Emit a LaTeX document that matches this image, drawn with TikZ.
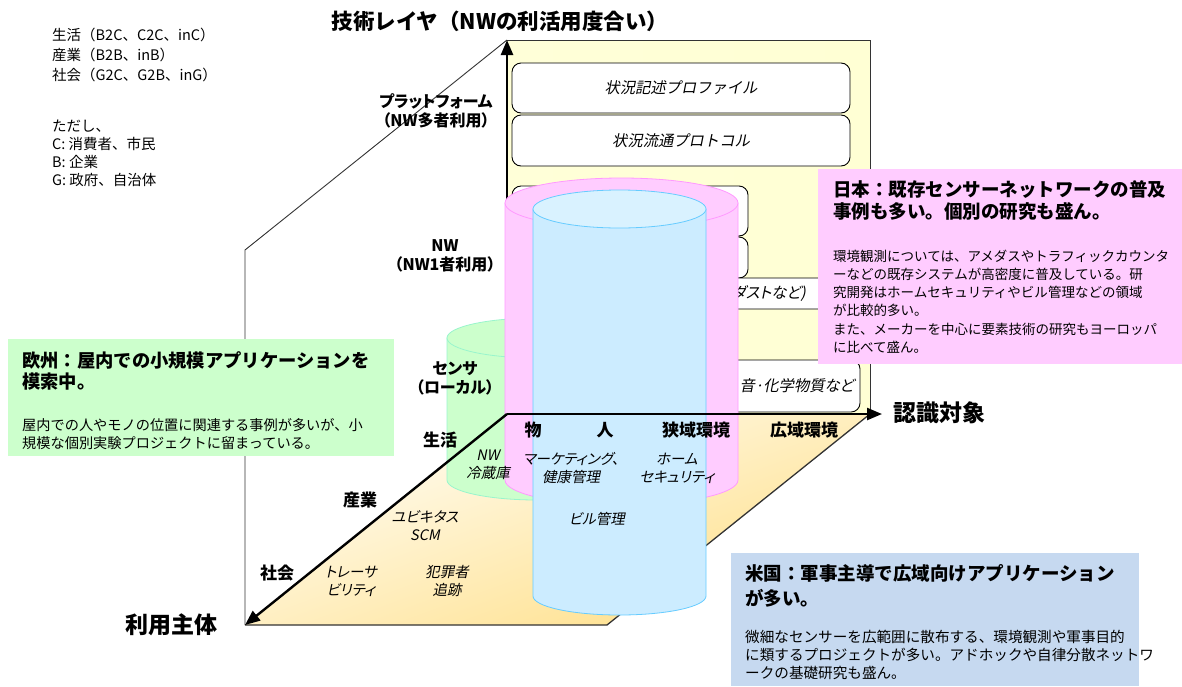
\documentclass[tikz,border=0pt]{standalone}
\usepackage{fontspec}
\setmainfont{Noto Sans CJK JP}
\newfontfamily\pj{Noto Sans CJK JP}[RawFeature=+palt]
\newfontfamily\pjit{Noto Sans CJK JP}[RawFeature=+palt,FakeSlant=0.2]
\newfontfamily\jit{Noto Sans CJK JP}[FakeSlant=0.2]
\usetikzlibrary{arrows.meta}
\newcommand\fsz[2]{\fontsize{#1}{#2}\selectfont}
\definecolor{wallL}{HTML}{FFFFD8}
\definecolor{wallM}{HTML}{FFFFF4}
\definecolor{wallR}{HTML}{FFFFD4}
\definecolor{floorA}{HTML}{FFFEF8}
\definecolor{floorB}{HTML}{FFDF88}
\definecolor{cylG}{HTML}{CCFFCC}
\definecolor{cylGd}{HTML}{99F5CC}
\definecolor{cylP}{HTML}{FFCCFF}
\definecolor{cylPd}{HTML}{FF99FF}
\definecolor{cylB}{HTML}{CCECFF}
\definecolor{cylBt}{HTML}{D9F2FF}
\definecolor{cylBd}{HTML}{66CCFF}
\definecolor{jpBox}{HTML}{FFCCFF}
\definecolor{euBox}{HTML}{CCFFCC}
\definecolor{usBox}{HTML}{C6D9F0}
\begin{document}
\begin{tikzpicture}[x=1pt,y=-1pt,
  axis/.style={line width=2.4pt,-{Triangle[length=15pt,width=12pt]}},
  rim/.style={line width=0.9pt,draw=black!80},
  wallbox/.style={draw=black,line width=0.9pt,fill=white,rounded corners=9pt,inner sep=0pt},
  boxtxt/.style={font=\jit\fsz{15.3}{18}},
  axlbl/.style={font=\pj\bfseries\fsz{16}{19},align=center,inner sep=0pt},
  tick/.style={font=\bfseries\fsz{17}{20},inner sep=0pt},
  flr/.style={font=\pjit\fsz{14.5}{18},align=center,inner sep=0pt},
  big/.style={font=\bfseries\fsz{23}{26},inner sep=0pt},
  infottl/.style={font=\bfseries\fsz{18.5}{22},align=left,anchor=north west,inner sep=0pt},
  infobody/.style={font=\fsz{13.5}{18.2},align=left,anchor=north west,inner sep=0pt},
  legend/.style={font=\fsz{14.5}{20.3},align=left,anchor=north west,inner sep=0pt},
  cylGs/.style={fill=cylG,draw=cylGd,line width=0.8pt},
  cylPs/.style={fill=cylP,draw=cylPd,line width=0.8pt},
  cylBs/.style={fill=cylB,draw=cylBd,line width=0.8pt},
]
\useasboundingbox (0,0) rectangle (1182,686);
\fill[white] (0,0) rectangle (1182,686);

% legend
\node[legend] (leg1) at (52,27.5) {生活（B2C、C2C、inC）\\産業（B2B、inB）\\社会（G2C、G2B、inG）};
\node[legend,font=\fsz{14.5}{18.1}] (leg2) at (52,119.7) {ただし、\\C: 消費者、市民\\B: 企業\\G: 政府、自治体};

% back wall
\shade[left color=wallL,middle color=wallM,right color=wallR] (507,40) rectangle (870,414);
\draw[rim] (507,40) -- (870,40) -- (870,414);
\node[wallbox,boxtxt,minimum width=338pt,minimum height=50pt] (wb1) at (681,88) {状況記述プロファイル};
\node[wallbox,boxtxt,minimum width=338pt,minimum height=51pt] (wb2) at (681,140.5) {状況流通プロトコル};
\node[wallbox,minimum width=236pt,minimum height=50pt] (wb3) at (630,211) {};
\node[wallbox,minimum width=236pt,minimum height=41pt] (wb4) at (630,257.5) {};
\node[wallbox,minimum width=348pt,minimum height=31pt] (wb5) at (686,293.5) {};
\node[boxtxt,font=\pjit\fsz{15.3}{18},anchor=east,inner sep=0pt] (wt5) at (806,293.5) {ダストなど)};
\node[wallbox,minimum width=348pt,minimum height=52pt] (wb6) at (686,386) {};
\node[boxtxt,font=\pjit\fsz{15.3}{18},anchor=east,inner sep=0pt] (wt6) at (854,386) {音·化学物質など};

% floor
\shade[top color=floorA,bottom color=floorB,shading angle=20] (507,414) -- (870,414) -- (607,625) -- (245,625) -- cycle;
\draw[rim,line width=1.3pt] (245,625) -- (607,625) -- (870,414);
\draw[rim] (245,625) -- (245,250) -- (507,40);

% vertical axis
\coordinate (O) at (507,414);
\coordinate (Vt) at (507,40);
\coordinate (Ht) at (882,414);
\coordinate (Dt) at (245,625);
\draw[axis] (O) -- (Vt);

% cylinders
\draw[cylGs] (447,338) -- (447,480) arc[start angle=180,end angle=0,x radius=90,y radius=20] -- (627,338) -- cycle;
\draw[cylGs] (537,338) ellipse[x radius=90,y radius=20];
\draw[cylPs] (505,203) -- (505,480) arc[start angle=180,end angle=0,x radius=116.5,y radius=25] -- (738,203) -- cycle;
\draw[cylPs] (621.5,203) ellipse[x radius=116.5,y radius=25];
\draw[cylBs] (533,209) -- (533,596) arc[start angle=180,end angle=0,x radius=86.5,y radius=19] -- (706,209) -- cycle;
\draw[cylBs,fill=cylBt] (619.5,209) ellipse[x radius=86.5,y radius=19];

% axes
\draw[axis] (O) -- (Ht);
\draw[axis] (O) -- (Dt);

% axis titles
\node[big,font=\bfseries\fsz{21.5}{26}] (tTitle) at (500,21) {技術レイヤ（NWの利活用度合い）};
\node[big] (tRecog) at (939,413) {認識対象};
\node[big] (tUser) at (171,625) {利用主体};

% vertical labels
\node[axlbl] (lPlat) at (436,110.5) {プラットフォーム\\（NW多者利用）};
\node[axlbl] (lNW) at (445,255.5) {NW\\（NW1者利用）};
\node[axlbl] (lSen) at (455,378) {センサ\\（ローカル）};

% ticks
\node[tick] (kSei) at (440,440) {生活};
\node[tick] (kSan) at (360,500) {産業};
\node[tick] (kSha) at (277,573) {社会};
\node[tick] (kMono) at (533,430) {物};
\node[tick] (kHito) at (605,430) {人};
\node[tick] (kKyo) at (696,430) {狭域環境};
\node[tick] (kKou) at (804,430) {広域環境};

% floor labels
\node[flr] (fNW) at (488,465) {NW\\冷蔵庫};
\node[flr] (fMk) at (571,468) {マーケティング、\\健康管理};
\node[flr] (fHm) at (677,468) {ホーム\\セキュリティ};
\node[flr] (fBl) at (597,519) {ビル管理};
\node[flr] (fUb) at (425,526) {ユビキタス\\SCM};
\node[flr] (fTr) at (351,581) {トレーサ\\ビリティ};
\node[flr] (fHz) at (447,581) {犯罪者\\追跡};

% Japan box
\fill[jpBox] (818,169) rectangle (1182,364);
\node[infottl] (jpT) at (833,180) {日本：既存センサーネットワークの普及\\事例も多い。個別の研究も盛ん。};
\node[infobody] (jpB) at (833,249.6) {環境観測については、アメダスやトラフィックカウンタ\\ーなどの既存システムが高密度に普及している。研\\究開発はホームセキュリティやビル管理などの領域\\が比較的多い。\\また、メーカーを中心に要素技術の研究もヨーロッパ\\に比べて盛ん。};

% Europe box
\fill[euBox] (8,339) rectangle (394,456);
\node[infottl,font=\bfseries\fsz{18.3}{21}] (euT) at (22,351) {欧州：屋内での小規模アプリケーションを\\模索中。};
\node[infobody,font=\fsz{14.2}{17.5}] (euB) at (22,418.3) {屋内での人やモノの位置に関連する事例が多いが、小\\規模な個別実験プロジェクトに留まっている。};

% US box
\fill[usBox] (731,553) rectangle (1139,686);
\node[infottl,font=\bfseries\fsz{18.5}{25}] (usT) at (745,564) {米国：軍事主導で広域向けアプリケーション\\が多い。};
\node[infobody,font=\fsz{14.6}{18}] (usB) at (745,630) {微細なセンサーを広範囲に散布する、環境観測や軍事目的\\に類するプロジェクトが多い。アドホックや自律分散ネットワ\\ークの基礎研究も盛ん。};
\end{tikzpicture}
\end{document}
